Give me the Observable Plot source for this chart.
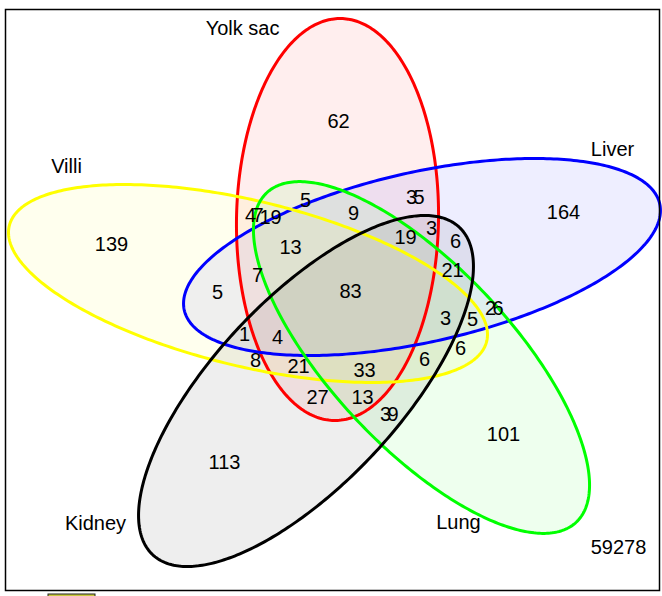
<!DOCTYPE html>
<html>
<head>
<meta charset="utf-8">
<script src="https://cdn.jsdelivr.net/npm/d3@7"></script>
<script src="https://cdn.jsdelivr.net/npm/@observablehq/plot@0.6"></script>
<style>
  html, body { margin: 0; padding: 0; background: #ffffff; }
  #chart svg { display: block; }
</style>
</head>
<body>
<div id="chart"></div>
<script>
// Five tissues, each drawn as an ellipse
const setNames  = ["Yolk sac", "Liver", "Villi", "Lung", "Kidney"];
const setColors = ["#ff0000", "#0000ff", "#ffff00", "#00ff00", "#000000"];

// Ellipse geometry (centre, semi-axes, rotation in degrees), in plot units
const ellipseCx    = [337, 421.5, 247.5, 421, 305.5];
const ellipseCy    = [219, 256.5, 283, 357, 390.5];
const ellipseA     = [201, 243.6, 245.6, 226, 224.3];
const ellipseB     = [101, 85, 82.7, 90, 92.4];
const ellipseAngle = [91, -12.6, 13.6, 46.8, -46.9];

// Set-name label anchors
const setLabelX = [242, 612, 66, 458, 95];
const setLabelY = [28, 149, 166, 522, 523];

// Gene counts in each region of the diagram
const regionCounts = [62, 164, 139, 101, 113,
  5, 35, 9, 47, 19, 13, 19, 3, 6, 21, 7, 5, 83, 26, 5, 3, 6,
  1, 4, 8, 21, 33, 6, 27, 13, 39];
const regionX = [338, 563, 111, 503, 224,
  305, 411, 353, 250, 270, 290, 405, 431, 455, 452, 257, 217, 350, 490, 472, 445, 460,
  244, 277, 255, 298, 364, 424, 317, 362, 385];
const regionY = [121, 212, 244, 434, 462,
  200, 197, 213, 215, 217, 247, 237, 228, 241, 270, 275, 292, 291, 308, 319, 318, 348,
  334, 337, 360, 366, 370, 359, 397, 397, 414];

// Genes outside every set
const outsideCount = 59278;

// Two-digit labels that sit tightly packed in small regions
const tightLabels = new Set(["47", "35", "26", "39"]);

function ellipsePoints(i) {
  const th = ellipseAngle[i] * Math.PI / 180;
  const c = Math.cos(th), s = Math.sin(th);
  return d3.range(0, 361).map(k => {
    const t = k * Math.PI / 180;
    const u = ellipseA[i] * Math.cos(t), v = ellipseB[i] * Math.sin(t);
    return {x: ellipseCx[i] + u * c - v * s, y: ellipseCy[i] + u * s + v * c};
  });
}

const outlines = setNames.map((_, i) => ellipsePoints(i));
const setLabels = setNames.map((name, i) => ({name, x: setLabelX[i], y: setLabelY[i]}));
const regions = regionCounts.map((n, i) => ({n, x: regionX[i], y: regionY[i]}));

const font = "'Liberation Sans', Arial, Helvetica, sans-serif";

const plot = Plot.plot({
  width: 662,
  height: 596,
  marginLeft: 5,
  marginRight: 3,
  marginTop: 9,
  marginBottom: 6,
  x: {domain: [5, 659], axis: null},
  y: {domain: [590, 9], axis: null},
  style: {fontFamily: font, background: "#ffffff"},
  marks: [
    // translucent fills
    ...outlines.map((pts, i) => Plot.line(pts, {
      x: "x", y: "y", curve: "linear-closed",
      fill: setColors[i], fillOpacity: 0.065, stroke: "none"
    })),
    // outlines
    ...outlines.map((pts, i) => Plot.line(pts, {
      x: "x", y: "y", curve: "linear-closed",
      stroke: setColors[i], strokeWidth: 3, fill: "none"
    })),
    Plot.frame({stroke: "#000", strokeWidth: 1.5}),
    Plot.text(setLabels, {x: "x", y: "y", text: "name", fontSize: 20, fill: "#000"}),
    Plot.text(regions, {x: "x", y: "y", text: d => String(d.n), fontSize: 20, fill: "#000"}),
    Plot.text([outsideCount], {x: 618, y: 547, text: d => String(d), fontSize: 20, fill: "#000"}),
    // edge of the box peeking below the frame
    Plot.rect([0], {x1: 48, x2: 95, y1: 594, y2: 604, fill: "#c8c83c", stroke: "#222", strokeWidth: 1})
  ]
});

d3.select(plot).selectAll("text")
  .filter(function () { return tightLabels.has(this.textContent); })
  .attr("letter-spacing", "-3.5px")
  .attr("dx", 2);

document.getElementById("chart").appendChild(plot);
</script>
</body>
</html>
